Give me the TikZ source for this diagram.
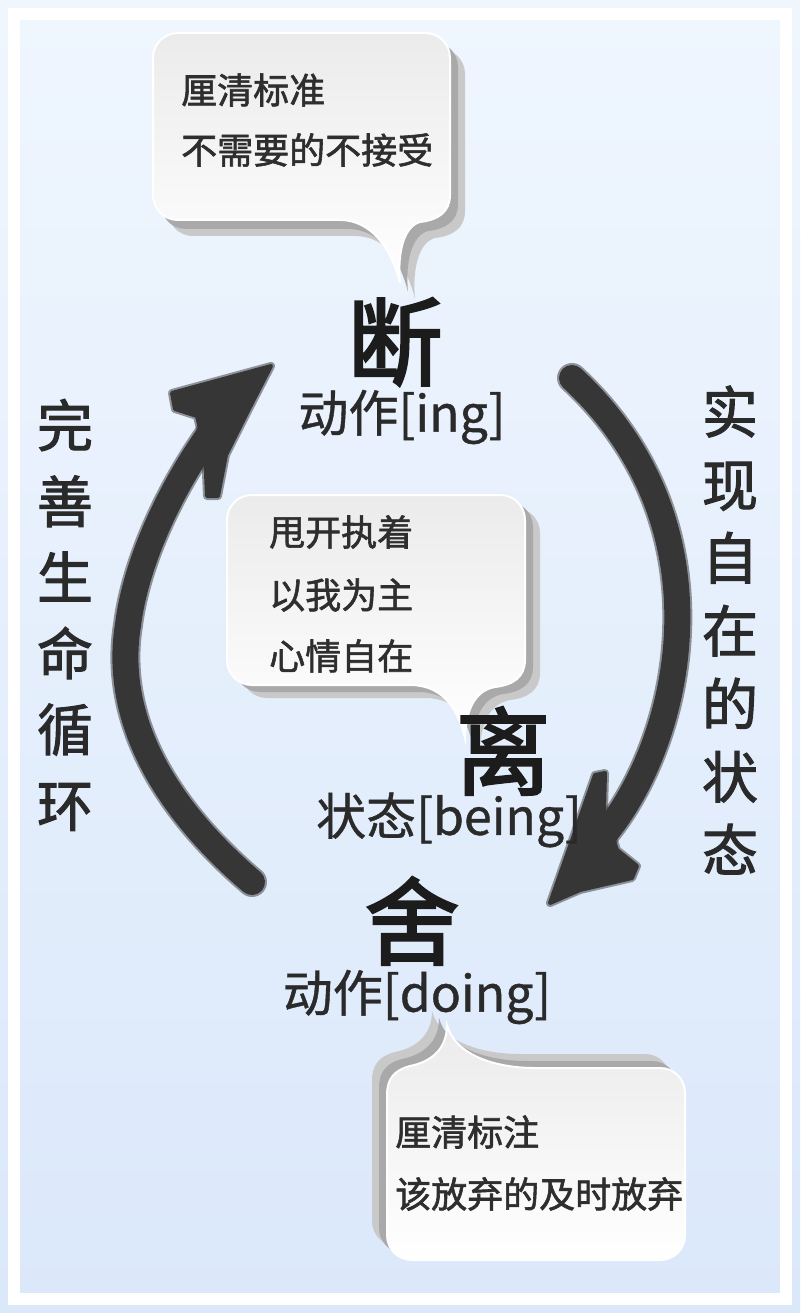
\documentclass[tikz,border=0pt]{standalone}
\usepackage{fontspec}
\setmainfont{Noto Sans CJK SC}
\newfontfamily\cjkbig[FakeBold=2.6]{Noto Sans CJK SC}
\newfontfamily\cjkmed[FakeBold=1.6]{Noto Sans CJK SC}
\newfontfamily\cjkside[FakeBold=1.8]{Noto Sans CJK SC}
\newfontfamily\cjklab[FakeBold=0.8]{Noto Sans CJK SC}
\definecolor{bgtop}{HTML}{EFF6FE}
\definecolor{bgbot}{HTML}{DBE8FA}
\definecolor{inkbig}{HTML}{1C1C1C}
\definecolor{inklab}{HTML}{2A2A2A}
\definecolor{inkbub}{HTML}{2E2E2E}
\definecolor{arrowcol}{HTML}{363636}
\definecolor{shadowA}{HTML}{C9C9C9}
\definecolor{shadowB}{HTML}{A9A9A9}
\definecolor{bubtop}{HTML}{EBEBEB}
\tikzset{
  bigchar/.style={font=\cjkbig\fontsize{95}{95}\selectfont, text=inkbig, inner sep=0pt},
  sublabel/.style={font=\cjklab\fontsize{50}{50}\selectfont, text=inklab, inner sep=0pt},
  bubtext/.style={font=\cjkmed\fontsize{36}{36}\selectfont, text=inkbub, inner sep=0pt, anchor=west},
  sidetext/.style={font=\cjkside\fontsize{56}{76}\selectfont, text=inklab, inner sep=0pt, align=center},
  bubbody/.style={top color=bubtop, bottom color=white, draw=white, line width=2pt},
  shaftblur/.style={draw=arrowcol, opacity=0.5, line width=30pt, line cap=round},
  shaftcore/.style={draw=arrowcol, line width=26pt, line cap=round},
  headfill/.style={fill=arrowcol, draw=arrowcol, line width=4pt, line join=round},
  headblur/.style={draw=arrowcol, opacity=0.5, line width=8pt, line join=round},
}
\def\topbubble{(178,33) -- (425,33) .. controls (439,33) and (450,44) .. (450,58) -- (450,195) .. controls (450,212) and (438,220) .. (420,222) .. controls (405,226) and (397,250) .. (400,283) .. controls (392,250) and (372,220) .. (340,220) -- (178,220) .. controls (164,220) and (153,209) .. (153,195) -- (153,58) .. controls (153,44) and (164,33) .. (178,33) -- cycle}
\def\midbubble{(252,495) -- (500,495) .. controls (514,495) and (525,506) .. (525,520) -- (525,660) .. controls (525,677) and (513,685) .. (495,687) .. controls (478,690) and (466,705) .. (465,738) .. controls (457,705) and (440,685) .. (410,685) -- (252,685) .. controls (238,685) and (227,674) .. (227,660) -- (227,520) .. controls (227,506) and (238,495) .. (252,495) -- cycle}
\def\botbubble{(412,1260) -- (660,1260) .. controls (674,1260) and (685,1249) .. (685,1235) -- (685,1093) .. controls (685,1079) and (674,1068) .. (660,1068) -- (535,1068) .. controls (495,1068) and (455,1055) .. (447,1025) .. controls (447,1050) and (430,1062) .. (410,1066) .. controls (395,1070) and (387,1078) .. (387,1095) -- (387,1235) .. controls (387,1249) and (398,1260) .. (412,1260) -- cycle}
\def\lefthead{(271,366) -- (172,393) -- (175,409) -- (197,416) -- (205,450) -- (207,496) -- (218,496) -- (226,455) -- (250,407) -- cycle}
\def\righthead{(550,903) -- (595,775) -- (605,773) -- (604,810) -- (617,850) -- (637,866) -- (632,878) -- (580,890) -- cycle}
\begin{document}
\begin{tikzpicture}[x=1pt,y=-1pt]
\useasboundingbox (0,0) rectangle (800,1313);
% background and frame
\shade[top color=bgtop, bottom color=bgbot] (0,0) rectangle (800,1313);
\draw[white, line width=12pt] (14,14) rectangle (786,1299);

% bubbles
\fill[shadowA, shift={(15,16)}] \topbubble;
\fill[shadowB, shift={(8,9)}] \topbubble;
\path[bubbody] \topbubble;
\fill[shadowA, shift={(15,13)}] \midbubble;
\fill[shadowB, shift={(8,7)}] \midbubble;
\path[bubbody] \midbubble;
\fill[shadowA, shift={(-15,-14)}] \botbubble;
\fill[shadowB, shift={(-8,-7)}] \botbubble;
\path[bubbody] \botbubble;

\node[bubtext] (t1) at (181,90) {厘清标准};
\node[bubtext] (t2) at (181,150) {不需要的不接受};
\node[bubtext] (m1) at (269,532) {甩开执着};
\node[bubtext] (m2) at (269,595) {以我为主};
\node[bubtext] (m3) at (269,656) {心情自在};
\node[bubtext] (b1) at (395,1132) {厘清标注};
\node[bubtext] (b2) at (395,1194) {该放弃的及时放弃};

% left arrow (up)
\coordinate (lt) at (252,882);
\coordinate (lm) at (128,625);
\coordinate (lh) at (238,398);
\path[shaftblur] (lt) .. controls (150,795) and (115,705) .. (lm) .. controls (138,545) and (190,452) .. (lh);
\path[shaftcore] (lt) .. controls (150,795) and (115,705) .. (lm) .. controls (138,545) and (190,452) .. (lh);
\path[headblur] \lefthead;
\path[headfill] \lefthead;

% right arrow (down)
\coordinate (rt) at (572,378);
\coordinate (rh) at (603,836);
\path[shaftblur] (rt) .. controls (734,528) and (680,745) .. (rh);
\path[shaftcore] (rt) .. controls (734,528) and (680,745) .. (rh);
\path[headblur] \righthead;
\path[headfill] \righthead;

% central texts
\node[bigchar] (duan) at (395,342) {断};
\node[sublabel] (duanl) at (402,417) {动作[ing]};
\node[bigchar] (li) at (503,751) {离};
\node[sublabel] (lil) at (449,820) {状态[being]};
\node[bigchar] (she) at (412,921) {舍};
\node[sublabel] (shel) at (417,997) {动作[doing]};

% side texts
\node[sidetext] (left) at (65,615) {完\\善\\生\\命\\循\\环};
\node[sidetext, font=\cjkside\fontsize{56}{73}\selectfont] (right) at (730,630) {实\\现\\自\\在\\的\\状\\态};
\end{tikzpicture}
\end{document}
